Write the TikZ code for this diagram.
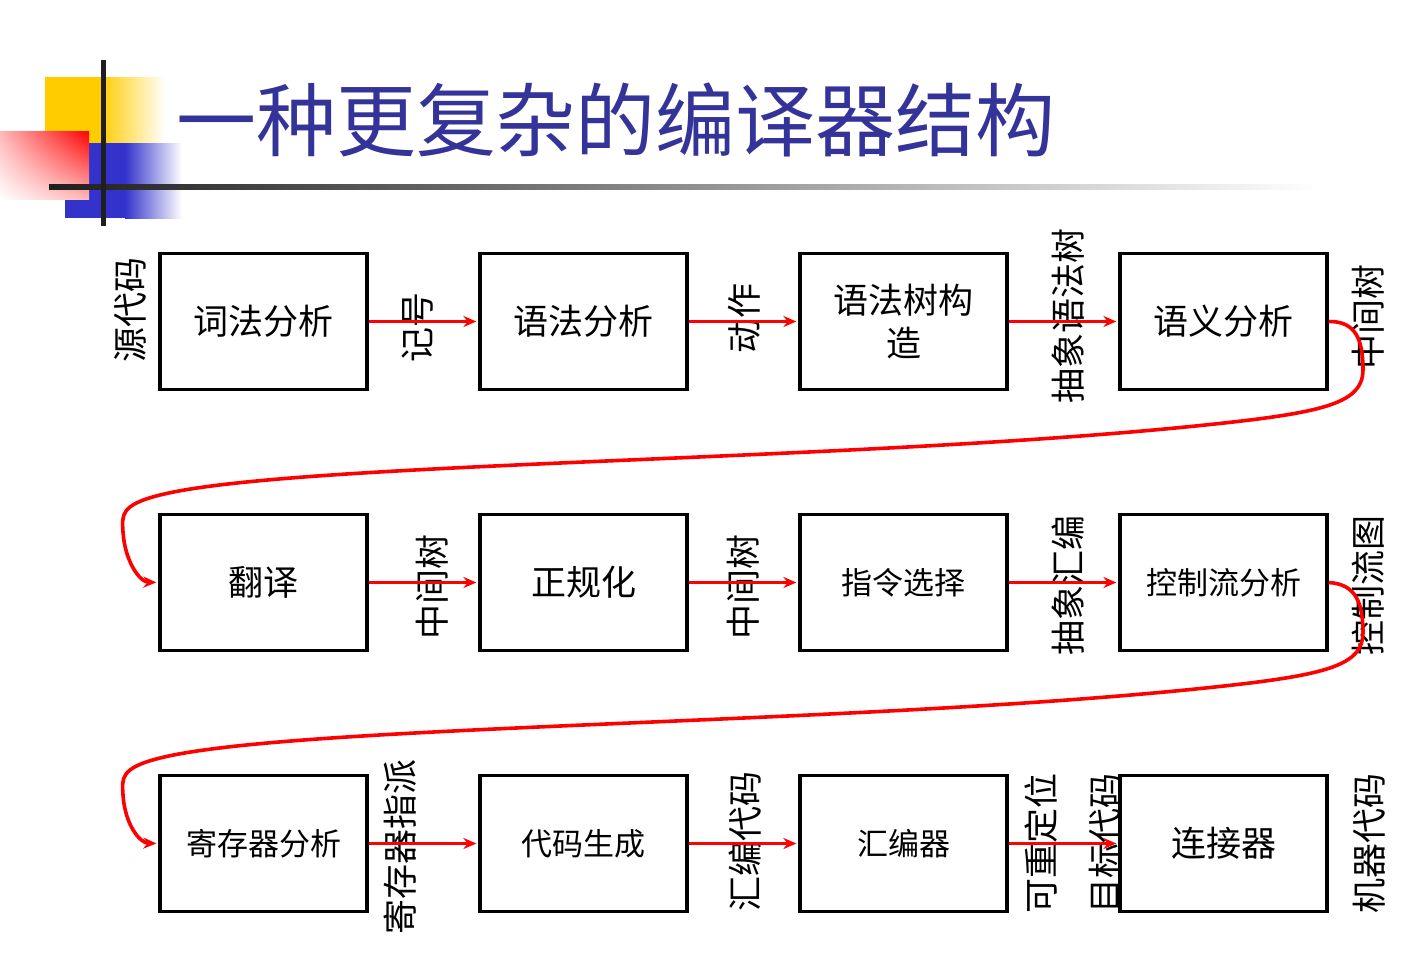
\documentclass[tikz,border=0pt]{standalone}
\usepackage{fontspec}
\setmainfont{Noto Sans CJK SC}
\usetikzlibrary{arrows.meta,shadings}
\definecolor{titleblue}{RGB}{51,51,153}
\definecolor{decoyellow}{RGB}{255,204,0}
\definecolor{decoblue}{RGB}{51,51,204}
\begin{document}
\begin{tikzpicture}[x=0.5pt,y=-0.5pt,
  box/.style={draw=black, line width=1.6pt, minimum width=103.5pt, minimum height=68pt,
    inner sep=0pt, align=center, font=\fontsize{17.5}{21.5}\selectfont},
  boxs/.style={box, font=\fontsize{15.5}{19}\selectfont},
  lab/.style={rotate=90, inner sep=0pt, font=\fontsize{17.5}{21.5}\selectfont},
  flow/.style={draw=red, line width=1.8pt, -{Stealth[length=6.5pt,width=5.5pt]}, shorten >=1pt}
]
\useasboundingbox (0,0) rectangle (1404,966);
% decoration
\fill[decoyellow] (45,77) rectangle (100,143);
\shade[left color=decoyellow, right color=white] (100,77) rectangle (165,143);
\fill[decoblue] (65,143) rectangle (125,218);
\shade[left color=decoblue, right color=white] (125,143) rectangle (182,218);
\shade[upper right=red, upper left=red!28, lower right=red!28, lower left=white] (0,131) rectangle (89,199);
\shade[left color=black!88, right color=white] (49,184.5) rectangle (1320,189.5);
\fill[black!88] (100.5,60) rectangle (105.5,226);
% title
\node[font=\fontsize{40}{48}\selectfont, text=titleblue, inner sep=0pt] (title) at (616,120) {一种更复杂的编译器结构};
% boxes
\node[box]  (b1) at (263.5,321.5) {词法分析};
\node[box]  (b2) at (583.5,321.5) {语法分析};
\node[box]  (b3) at (903.5,321.5) {语法树构\\造};
\node[box]  (b4) at (1223.5,321.5) {语义分析};
\node[box]  (b5) at (263.5,582.5) {翻译};
\node[box]  (b6) at (583.5,582.5) {正规化};
\node[boxs] (b7) at (903.5,582.5) {指令选择};
\node[boxs] (b8) at (1223.5,582.5) {控制流分析};
\node[boxs] (b9) at (263.5,843.5) {寄存器分析};
\node[boxs] (b10) at (583.5,843.5) {代码生成};
\node[boxs] (b11) at (903.5,843.5) {汇编器};
\node[box]  (b12) at (1223.5,843.5) {连接器};
% labels
\node[lab] (l1) at (130,310) {源代码};
\node[lab] (l2) at (418,327) {记号};
\node[lab] (l3) at (744,318) {动作};
\node[lab] (l4) at (1068,316) {抽象语法树};
\node[lab] (l5) at (1368,317) {中间树};
\node[lab] (l6) at (432,587) {中间树};
\node[lab] (l7) at (743,587) {中间树};
\node[lab] (l8) at (1068,585) {抽象汇编};
\node[lab] (l9) at (1368,585) {控制流图};
\node[lab] (l10) at (400,847) {寄存器指派};
\node[lab] (l11) at (745,841) {汇编代码};
\node[lab] (l12) at (1041,843) {可重定位};
\node[lab] (l13) at (1105,843) {目标代码};
\node[lab] (l14) at (1369,843) {机器代码};
% connectors
\draw[flow] (b1) -- (b2);
\draw[flow] (b2) -- (b3);
\draw[flow] (b3) -- (b4);
\draw[flow] (b5) -- (b6);
\draw[flow] (b6) -- (b7);
\draw[flow] (b7) -- (b8);
\draw[flow] (b9) -- (b10);
\draw[flow] (b10) -- (b11);
\draw[flow] (b11) -- (b12);
\draw[flow] (b4.east) .. controls (1356,321) and (1363,340) .. (1363,370)
  .. controls (1363,400) and (1330,410) .. (1250,420)
  .. controls (900,462) and (300,460) .. (160,495)
  .. controls (120,505) and (122,515) .. (123,532)
  .. controls (125,562) and (140,582) .. (b5.west);
\draw[flow] (b8.east) .. controls (1356,584) and (1363,603) .. (1363,633)
  .. controls (1363,663) and (1330,673) .. (1250,683)
  .. controls (900,725) and (300,723) .. (160,758)
  .. controls (120,768) and (122,778) .. (123,795)
  .. controls (125,825) and (140,843) .. (b9.west);
\end{tikzpicture}
\end{document}
